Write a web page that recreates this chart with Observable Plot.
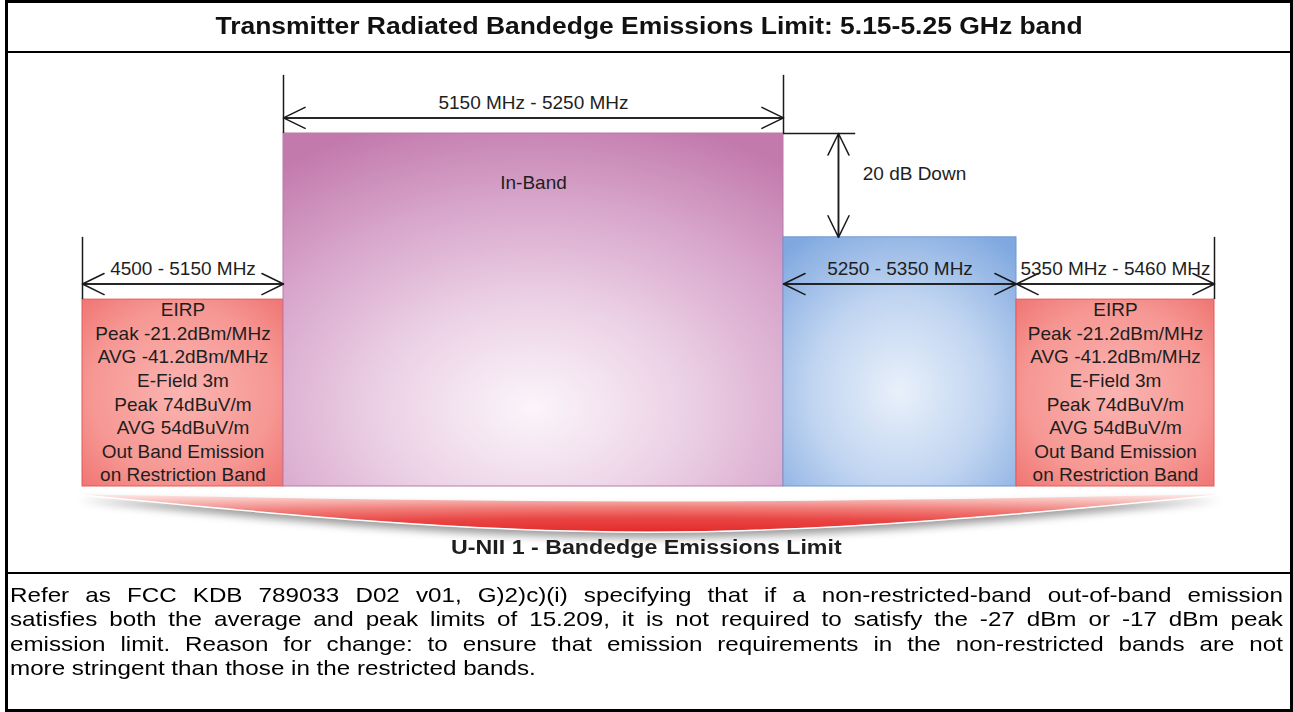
<!DOCTYPE html>
<html><head><meta charset="utf-8">
<script src="https://cdn.jsdelivr.net/npm/d3@7"></script>
<script src="https://cdn.jsdelivr.net/npm/@observablehq/plot@0.6"></script>
<style>
html,body{margin:0;padding:0;background:#fff;}
body{width:1293px;height:712px;position:relative;overflow:hidden;font-family:"Liberation Sans",Arial,sans-serif;}
#frame{position:absolute;left:5px;top:0;width:1288px;height:712px;border:3px solid #000;box-sizing:border-box;}
.sep{position:absolute;left:5px;width:1288px;height:2px;background:#000;}
#title{position:absolute;left:8px;top:3px;width:1282px;height:48px;display:flex;align-items:center;justify-content:center;}
#title span{display:inline-block;position:relative;top:-1px;font-weight:bold;font-size:23px;transform:scaleX(1.15);color:#111;white-space:nowrap;}
#chart{position:absolute;left:0;top:53px;}
#label{position:absolute;left:1px;width:1290px;top:536px;text-align:center;}
#label span{display:inline-block;font-weight:bold;font-size:20px;transform:scaleX(1.16);color:#1e1e1e;white-space:nowrap;}
#para{position:absolute;left:10px;top:582.5px;width:1105px;transform:scaleX(1.152);transform-origin:0 0;font-size:21px;line-height:24.5px;color:#000;}
#para div{white-space:nowrap;text-align:justify;text-align-last:justify;}
#para div.last{text-align-last:left;}
g[aria-label="area"] path{filter:drop-shadow(0 6px 4px rgba(0,0,0,0.4));}
</style></head><body>
<div id="frame"></div>
<div class="sep" style="top:51px"></div>
<div class="sep" style="top:572px"></div>
<div id="title"><span></span></div>
<div id="chart"></div>
<div id="label"><span></span></div>
<div id="para"></div>
<script>
// ---- text ----
const titleText = "Transmitter Radiated Bandedge Emissions Limit: 5.15-5.25 GHz band";
const bottomLabel = "U-NII 1 - Bandedge Emissions Limit";
const paragraphLines = [
  "Refer as FCC KDB 789033 D02 v01, G)2)c)(i) specifying that if a non-restricted-band out-of-band emission",
  "satisfies both the average and peak limits of 15.209, it is not required to satisfy the -27 dBm or -17 dBm peak",
  "emission limit. Reason for change: to ensure that emission requirements in the non-restricted bands are not",
  "more stringent than those in the restricted bands."
];

// ---- bands (MHz, level in dB relative to in-band) ----
const bandStart = [4500, 5150, 5250, 5350];
const bandEnd   = [5150, 5250, 5350, 5460];
const bandLevel = [-32, 0, -20, -32];
const bandKind  = ["restricted", "inband", "nonrestricted", "restricted"];
const floorLevel = -68;

// dimension annotations
const dimLabels = ["4500 - 5150 MHz", "5150 MHz - 5250 MHz", "5250 - 5350 MHz", "5350 MHz - 5460 MHz"];
const dimLevel  = [-29, 3, -29, -29];

// extension lines
const extX    = [4500, 5150, 5250, 5460];
const extFrom = [-32, 0, 0, -32];
const extTo   = [-20, 11.2, 11.2, -20];

// restricted band limits text
const restrictedLines = ["EIRP", "Peak -21.2dBm/MHz", "AVG -41.2dBm/MHz", "E-Field 3m",
  "Peak 74dBuV/m", "AVG 54dBuV/m", "Out Band Emission", "on Restriction Band"];

// 20 dB down annotation
const downX = [5273.6];
const downFrom = [0];
const downTo = [-20];
const downRefX1 = [5250], downRefX2 = [5281];
const downLabel = ["20 dB Down"];
const downLabelX = [5284];
const downLabelLevel = [-7.7];

const inBandLabel = ["In-Band"];
const inBandLabelLevel = [-9.6];

// bottom arc (emission limit swoosh)
const arcX      = [4487, 5223, 5464];
const arcTop    = [-69.6, -71.0, -69.6];
const arcBottom = [-69.6, -76.8, -69.6];

const fillOf = {restricted: "url(#g-restricted)", inband: "url(#g-inband)", nonrestricted: "url(#g-nonrestricted)"};
const strokeOf = {restricted: "#e45a58", inband: "#b87aa8", nonrestricted: "#6e98d2"};

const idx = bandStart.map((_, i) => i);
const restrictedIdx = idx.filter(i => bandKind[i] === "restricted");
const mid = i => (bandStart[i] + bandEnd[i]) / 2;
const ink = "#1e1e1e";
const arrowOpts = {stroke: "#1a1a1a", strokeWidth: 1.5, headLength: 24, headAngle: 52};

const chart = Plot.plot({
  width: 1293, height: 519, margin: 0,
  x: {type: "linear", domain: [4500, 5150, 5250, 5350, 5460], range: [82, 283, 783, 1016, 1214], axis: null},
  y: {domain: [floorLevel, 0], range: [433, 80], axis: null},
  color: {type: "identity"},
  style: {fontFamily: "'Liberation Sans', Arial, sans-serif", background: "transparent", overflow: "visible"},
  marks: [
    // bottom swoosh
    Plot.areaY({length: arcX.length}, {x: arcX, y1: arcBottom, y2: arcTop, curve: "natural", fill: "url(#g-arc)"}),
    Plot.line({length: arcX.length}, {x: arcX, y: arcBottom, curve: "natural", stroke: "#fff", strokeWidth: 1.5}),
    // bands
    Plot.rect(idx, {x1: i => bandStart[i], x2: i => bandEnd[i], y1: () => floorLevel, y2: i => bandLevel[i],
      fill: i => fillOf[bandKind[i]], stroke: i => strokeOf[bandKind[i]], strokeWidth: 1}),
    // extension lines
    Plot.ruleX(extX.map((_, i) => i), {x: i => extX[i], y1: i => extFrom[i], y2: i => extTo[i], stroke: "#1a1a1a", strokeWidth: 1.5}),
    Plot.ruleY([0], {y: 0, x1: downRefX1[0], x2: downRefX2[0], stroke: "#1a1a1a", strokeWidth: 1.5}),
    // dimension arrows (double-headed)
    Plot.arrow(idx, {x1: i => bandStart[i], x2: i => bandEnd[i], y1: i => dimLevel[i], y2: i => dimLevel[i], ...arrowOpts}),
    Plot.arrow(idx, {x1: i => bandEnd[i], x2: i => bandStart[i], y1: i => dimLevel[i], y2: i => dimLevel[i], ...arrowOpts}),
    Plot.arrow([0], {x1: downX[0], x2: downX[0], y1: downFrom[0], y2: downTo[0], ...arrowOpts}),
    Plot.arrow([0], {x1: downX[0], x2: downX[0], y1: downTo[0], y2: downFrom[0], ...arrowOpts}),
    // labels
    Plot.text(idx, {x: mid, y: i => dimLevel[i], text: i => dimLabels[i], dy: -15, fontSize: 19, fill: ink}),
    Plot.text(restrictedIdx, {x: mid, y: i => bandLevel[i], text: () => restrictedLines.join("\n"),
      lineAnchor: "top", lineHeight: 1.24, fontSize: 19, fill: ink}),
    Plot.text([0], {x: mid(1), y: inBandLabelLevel[0], text: () => inBandLabel[0], fontSize: 19, fill: ink}),
    Plot.text([0], {x: downLabelX[0], y: downLabelLevel[0], text: () => downLabel[0], textAnchor: "start", fontSize: 19, fill: ink})
  ]
});

d3.select(chart).insert("defs", ":first-child").html(`
  <radialGradient id="g-restricted" cx="0.5" cy="0.5" r="0.7">
    <stop offset="0" stop-color="#fbb4b1"/>
    <stop offset="0.65" stop-color="#f69793"/>
    <stop offset="1" stop-color="#ef7673"/>
  </radialGradient>
  <radialGradient id="g-inband" cx="0.5" cy="0.78" r="0.85">
    <stop offset="0" stop-color="#fbf5fa"/>
    <stop offset="0.35" stop-color="#ecd2e6"/>
    <stop offset="0.7" stop-color="#d7a4ca"/>
    <stop offset="1" stop-color="#c27aad"/>
  </radialGradient>
  <radialGradient id="g-nonrestricted" cx="0.5" cy="0.62" r="0.75">
    <stop offset="0" stop-color="#e9f0fa"/>
    <stop offset="0.5" stop-color="#c1d5f1"/>
    <stop offset="1" stop-color="#7fa8df"/>
  </radialGradient>
  <radialGradient id="g-arc" cx="0.5" cy="1" r="1.2">
    <stop offset="0" stop-color="#e22b2a"/>
    <stop offset="0.3" stop-color="#e94644"/>
    <stop offset="0.55" stop-color="#f1807c"/>
    <stop offset="0.78" stop-color="#f9c4c0"/>
    <stop offset="1" stop-color="#ffffff"/>
  </radialGradient>`);

document.getElementById("chart").appendChild(chart);
document.querySelector("#title span").textContent = titleText;
document.querySelector("#label span").textContent = bottomLabel;
const para = document.getElementById("para");
paragraphLines.forEach((t, i) => {
  const d = document.createElement("div");
  d.textContent = t;
  if (i === paragraphLines.length - 1) d.className = "last";
  para.appendChild(d);
});
</script>
</body></html>
